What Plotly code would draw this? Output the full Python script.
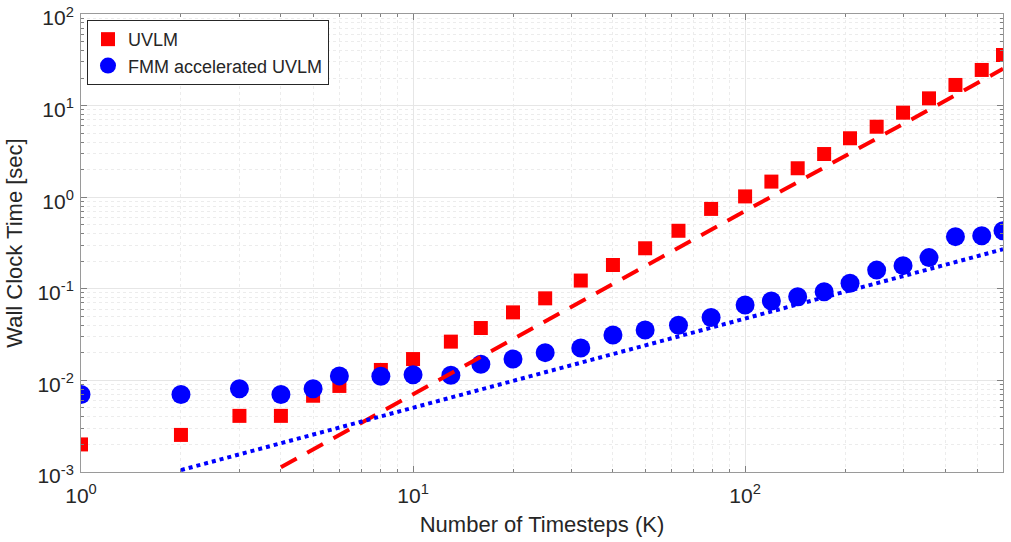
import plotly.graph_objects as go

# ---- data ----
timesteps = [1, 2, 3, 4, 5, 6, 8, 10, 13, 16, 20, 25, 32, 40, 50, 63, 79,
             100, 120, 144, 173, 207, 249, 299, 358, 430, 516, 598]
uvlm_time = [0.0020, 0.00254, 0.0041, 0.0041, 0.0068, 0.0087, 0.0130, 0.0171,
             0.0265, 0.0373, 0.0553, 0.0787, 0.123, 0.182, 0.277, 0.430, 0.745,
             1.02, 1.48, 2.07, 2.96, 4.40, 5.88, 8.37, 12.0, 16.8, 24.5, 35.7]
fmm_time = [0.0070, 0.0070, 0.0081, 0.0070, 0.0081, 0.0112, 0.0111, 0.0115,
            0.0114, 0.0150, 0.0171, 0.0201, 0.0226, 0.0313, 0.0355, 0.0400, 0.0486,
            0.0665, 0.0736, 0.0820, 0.0930, 0.115, 0.160, 0.179, 0.219, 0.371, 0.380, 0.430]

# reference scaling lines (endpoints)
quad_x = [4, 598]
quad_y = [0.00113, 25.2]
lin_x = [2, 598]
lin_y = [0.00105, 0.27]

x_tick_vals = [1, 10, 100]
x_exps = ["0", "1", "2"]
y_tick_vals = [1e-3, 1e-2, 1e-1, 1, 10, 100]
y_exps = ["-3", "-2", "-1", "0", "1", "2"]

FONT = "Liberation Sans, Arial, Helvetica, sans-serif"
TXT = "#262626"


def power_label(e):
    return "10<sup>" + e + "</sup>"


fig = go.Figure()
fig.add_trace(go.Scatter(x=timesteps, y=uvlm_time, mode="markers", name="UVLM",
                         marker=dict(symbol="square", size=14, color="#ff0000")))
fig.add_trace(go.Scatter(x=timesteps, y=fmm_time, mode="markers", name="FMM accelerated UVLM",
                         marker=dict(symbol="circle", size=19, color="#0000ff")))
fig.add_trace(go.Scatter(x=quad_x, y=quad_y, mode="lines", showlegend=False,
                         line=dict(color="#ff0000", width=4, dash="18px,12px")))
fig.add_trace(go.Scatter(x=lin_x, y=lin_y, mode="lines", showlegend=False,
                         line=dict(color="#0000ff", width=4, dash="4px,4px")))

minor_x = [m * 10 ** d for d in range(0, 3) for m in range(2, 10)]
minor_y = [m * 10.0 ** d for d in range(-3, 2) for m in range(2, 10)]

axis_common = dict(
    type="log", showline=True, linecolor="#9a9a9a", linewidth=1, mirror="allticks",
    ticks="inside", ticklen=6, tickcolor="#808080", ticklabeloverflow="allow",
    showgrid=True, gridcolor="#e6e6e6", gridwidth=1, automargin=False,
    zeroline=False, tickfont=dict(family=FONT, size=21, color=TXT),
)

fig.update_xaxes(
    **axis_common, range=[0, 2.7767],
    tickvals=x_tick_vals, ticktext=[power_label(e) for e in x_exps],
    ticklabelstandoff=5,
    minor=dict(tickvals=minor_x, ticks="inside", ticklen=3, tickcolor="#808080",
               showgrid=True, gridcolor="#ececec", griddash="dot", gridwidth=1),
    title=dict(text="Number of Timesteps (K)", font=dict(family=FONT, size=22, color=TXT),
               standoff=10),
)
fig.update_yaxes(
    **axis_common, range=[-3, 2],
    tickvals=y_tick_vals, ticktext=[power_label(e) for e in y_exps],
    ticklabelstandoff=2, ticklabelshift=4,
    minor=dict(tickvals=minor_y, ticks="inside", ticklen=3, tickcolor="#808080",
               showgrid=True, gridcolor="#ececec", griddash="dot", gridwidth=1),
    title=dict(text="Wall Clock Time [sec]", font=dict(family=FONT, size=22, color=TXT),
               standoff=8),
)

fig.update_layout(
    width=1011, height=542,
    margin=dict(l=81, r=8, t=14, b=70),
    paper_bgcolor="white", plot_bgcolor="white",
    font=dict(family=FONT, color=TXT),
    legend=dict(x=0.0065, y=0.987, xanchor="left", yanchor="top",
                bgcolor="white", bordercolor="#262626", borderwidth=1,
                font=dict(family=FONT, size=18, color=TXT),
                itemsizing="trace", tracegroupgap=0),
)

fig.write_html("out.html")
